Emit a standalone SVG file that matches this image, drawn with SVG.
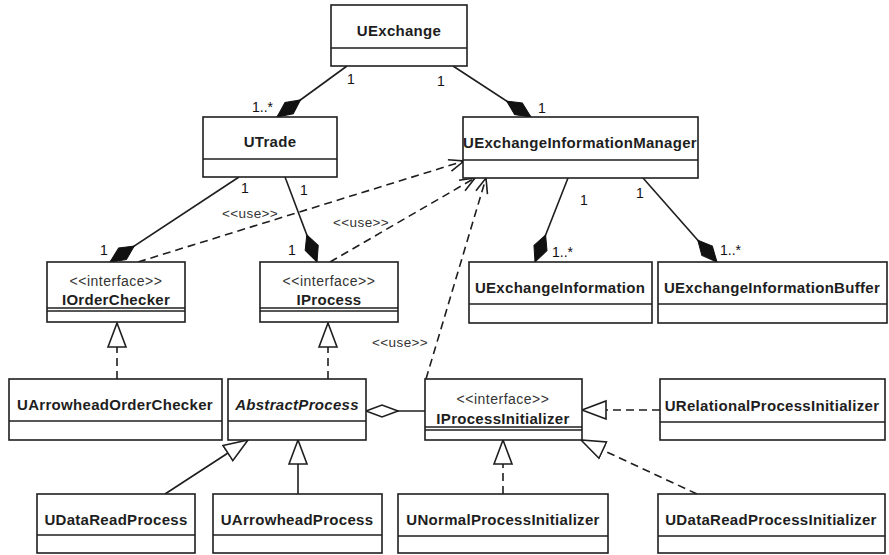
<svg xmlns="http://www.w3.org/2000/svg" width="889" height="555" viewBox="0 0 889 555">
  <defs>
    <style>
      .box { fill: #fff; stroke: #1e1e1e; stroke-width: 1.6; }
      .div { stroke: #1e1e1e; stroke-width: 1.6; fill: none; }
      .name { font-family: "Liberation Sans", Arial, sans-serif; font-size: 15px; font-weight: bold; fill: #1e1e1e; text-anchor: middle; letter-spacing: 0.3px; }
      .abstract { font-style: italic; }
      .stereo { font-family: "Liberation Sans", Arial, sans-serif; font-size: 14px; fill: #333; text-anchor: middle; letter-spacing: 0.5px; }
      .lbl { font-family: "Liberation Sans", Arial, sans-serif; font-size: 14px; fill: #111; }
      .use { font-family: "Liberation Sans", Arial, sans-serif; font-size: 13.5px; fill: #333; letter-spacing: 0.4px; }
      .solid { stroke: #1e1e1e; stroke-width: 1.6; fill: none; }
      .dash { stroke: #1e1e1e; stroke-width: 1.6; fill: none; stroke-dasharray: 8 5; }
    </style>
    <!-- filled diamond: composition -->
    <marker id="comp" markerUnits="userSpaceOnUse" markerWidth="32" markerHeight="18" refX="30" refY="9" orient="auto">
      <path d="M1,9 L15,2 L30,9 L15,16 Z" fill="#111" stroke="#111" stroke-width="1"/>
    </marker>
    <!-- hollow diamond: aggregation -->
    <marker id="agg" markerUnits="userSpaceOnUse" markerWidth="36" markerHeight="16" refX="33" refY="8" orient="auto">
      <path d="M1,8 L17,2 L33,8 L17,14 Z" fill="#fff" stroke="#1e1e1e" stroke-width="1.6"/>
    </marker>
    <!-- hollow triangle: generalization / realization -->
    <marker id="tri" markerUnits="userSpaceOnUse" markerWidth="28" markerHeight="22" refX="25" refY="11" orient="auto">
      <path d="M1,2 L25,11 L1,20 Z" fill="#fff" stroke="#1e1e1e" stroke-width="1.6"/>
    </marker>
    <!-- open arrow: dependency -->
    <marker id="open" markerUnits="userSpaceOnUse" markerWidth="18" markerHeight="14" refX="16" refY="7" orient="auto">
      <path d="M1,1 L16,7 L1,13" fill="none" stroke="#1e1e1e" stroke-width="1.6"/>
    </marker>
  </defs>

  <rect width="889" height="555" fill="#fff"/>

  <!-- connectors -->
  <g id="connectors">
    <!-- compositions -->
    <path class="solid" d="M347,66 L277,117" marker-end="url(#comp)"/>
    <path class="solid" d="M453,66 L531,117" marker-end="url(#comp)"/>
    <path class="solid" d="M239,177 L110,262" marker-end="url(#comp)"/>
    <path class="solid" d="M285,177 L317,262" marker-end="url(#comp)"/>
    <path class="solid" d="M568,178 L535,262" marker-end="url(#comp)"/>
    <path class="solid" d="M643,178 L717,262" marker-end="url(#comp)"/>
    <!-- aggregation -->
    <path class="solid" d="M425,411 L366,411" marker-end="url(#agg)"/>
    <!-- dependencies -->
    <path class="dash" d="M138,262 L464,161" marker-end="url(#open)"/>
    <path class="dash" d="M330,262 L475,178" marker-end="url(#open)"/>
    <path class="dash" d="M426,379 L486,178" marker-end="url(#open)"/>
    <!-- realizations -->
    <path class="dash" d="M117,379 L117,323" marker-end="url(#tri)"/>
    <path class="dash" d="M328,379 L328,323" marker-end="url(#tri)"/>
    <path class="dash" d="M660,410 L582,410" marker-end="url(#tri)"/>
    <path class="dash" d="M503,494 L503,440" marker-end="url(#tri)"/>
    <path class="dash" d="M697,494 L581,440" marker-end="url(#tri)"/>
    <!-- generalizations -->
    <path class="solid" d="M165,494 L248,440" marker-end="url(#tri)"/>
    <path class="solid" d="M298,494 L298,440" marker-end="url(#tri)"/>

    <!-- multiplicities -->
    <text class="lbl" x="347" y="84">1</text>
    <text class="lbl" x="273" y="112" text-anchor="end">1..*</text>
    <text class="lbl" x="437" y="86">1</text>
    <text class="lbl" x="538" y="113">1</text>
    <text class="lbl" x="241" y="193">1</text>
    <text class="lbl" x="100" y="255">1</text>
    <text class="lbl" x="300" y="195">1</text>
    <text class="lbl" x="288" y="255">1</text>
    <text class="lbl" x="580" y="205">1</text>
    <text class="lbl" x="552" y="257">1..*</text>
    <text class="lbl" x="636" y="198">1</text>
    <text class="lbl" x="720" y="255">1..*</text>

    <!-- stereotype labels -->
    <text class="use" x="222" y="218">&lt;&lt;use&gt;&gt;</text>
    <text class="use" x="333" y="227">&lt;&lt;use&gt;&gt;</text>
    <text class="use" x="372" y="347">&lt;&lt;use&gt;&gt;</text>
  </g>

  <!-- classes -->
  <g id="UExchange">
    <rect class="box" x="331" y="5" width="136" height="61"/>
    <line class="div" x1="331" y1="48" x2="467" y2="48"/>
    <text class="name" x="399" y="36">UExchange</text>
  </g>

  <g id="UTrade">
    <rect class="box" x="203" y="117" width="134" height="60"/>
    <line class="div" x1="203" y1="159" x2="337" y2="159"/>
    <text class="name" x="270" y="147">UTrade</text>
  </g>

  <g id="UExchangeInformationManager">
    <rect class="box" x="463" y="117" width="235" height="61"/>
    <line class="div" x1="463" y1="160" x2="698" y2="160"/>
    <text class="name" x="580" y="148">UExchangeInformationManager</text>
  </g>

  <g id="IOrderChecker">
    <rect class="box" x="47" y="262" width="138" height="60"/>
    <line class="div" x1="47" y1="308" x2="185" y2="308"/>
    <line class="div" x1="47" y1="311" x2="185" y2="311"/>
    <text class="stereo" x="116" y="286">&lt;&lt;interface&gt;&gt;</text>
    <text class="name" x="116" y="305">IOrderChecker</text>
  </g>

  <g id="IProcess">
    <rect class="box" x="260" y="262" width="138" height="60"/>
    <line class="div" x1="260" y1="308" x2="398" y2="308"/>
    <line class="div" x1="260" y1="311" x2="398" y2="311"/>
    <text class="stereo" x="329" y="286">&lt;&lt;interface&gt;&gt;</text>
    <text class="name" x="329" y="305">IProcess</text>
  </g>

  <g id="UExchangeInformation">
    <rect class="box" x="469" y="262" width="183" height="61"/>
    <line class="div" x1="469" y1="304" x2="652" y2="304"/>
    <text class="name" x="560" y="293">UExchangeInformation</text>
  </g>

  <g id="UExchangeInformationBuffer">
    <rect class="box" x="658" y="262" width="229" height="61"/>
    <line class="div" x1="658" y1="304" x2="887" y2="304"/>
    <text class="name" x="772" y="293">UExchangeInformationBuffer</text>
  </g>

  <g id="UArrowheadOrderChecker">
    <rect class="box" x="9" y="379" width="213" height="61"/>
    <line class="div" x1="9" y1="421" x2="222" y2="421"/>
    <text class="name" x="115" y="410">UArrowheadOrderChecker</text>
  </g>

  <g id="AbstractProcess">
    <rect class="box" x="228" y="379" width="138" height="61"/>
    <line class="div" x1="228" y1="421" x2="366" y2="421"/>
    <text class="name abstract" x="297" y="410">AbstractProcess</text>
  </g>

  <g id="IProcessInitializer">
    <rect class="box" x="425" y="379" width="157" height="61"/>
    <line class="div" x1="425" y1="427" x2="582" y2="427"/>
    <line class="div" x1="425" y1="430" x2="582" y2="430"/>
    <text class="stereo" x="503" y="404">&lt;&lt;interface&gt;&gt;</text>
    <text class="name" x="503" y="424">IProcessInitializer</text>
  </g>

  <g id="URelationalProcessInitializer">
    <rect class="box" x="660" y="379" width="225" height="61"/>
    <line class="div" x1="660" y1="422" x2="885" y2="422"/>
    <text class="name" x="772" y="411">URelationalProcessInitializer</text>
  </g>

  <g id="UDataReadProcess">
    <rect class="box" x="37" y="494" width="158" height="59"/>
    <line class="div" x1="37" y1="535" x2="195" y2="535"/>
    <text class="name" x="116" y="525">UDataReadProcess</text>
  </g>

  <g id="UArrowheadProcess">
    <rect class="box" x="213" y="494" width="169" height="59"/>
    <line class="div" x1="213" y1="535" x2="382" y2="535"/>
    <text class="name" x="297" y="525">UArrowheadProcess</text>
  </g>

  <g id="UNormalProcessInitializer">
    <rect class="box" x="398" y="494" width="210" height="59"/>
    <line class="div" x1="398" y1="536" x2="608" y2="536"/>
    <text class="name" x="503" y="525">UNormalProcessInitializer</text>
  </g>

  <g id="UDataReadProcessInitializer">
    <rect class="box" x="658" y="494" width="227" height="59"/>
    <line class="div" x1="658" y1="536" x2="885" y2="536"/>
    <text class="name" x="771" y="525">UDataReadProcessInitializer</text>
  </g>
</svg>
